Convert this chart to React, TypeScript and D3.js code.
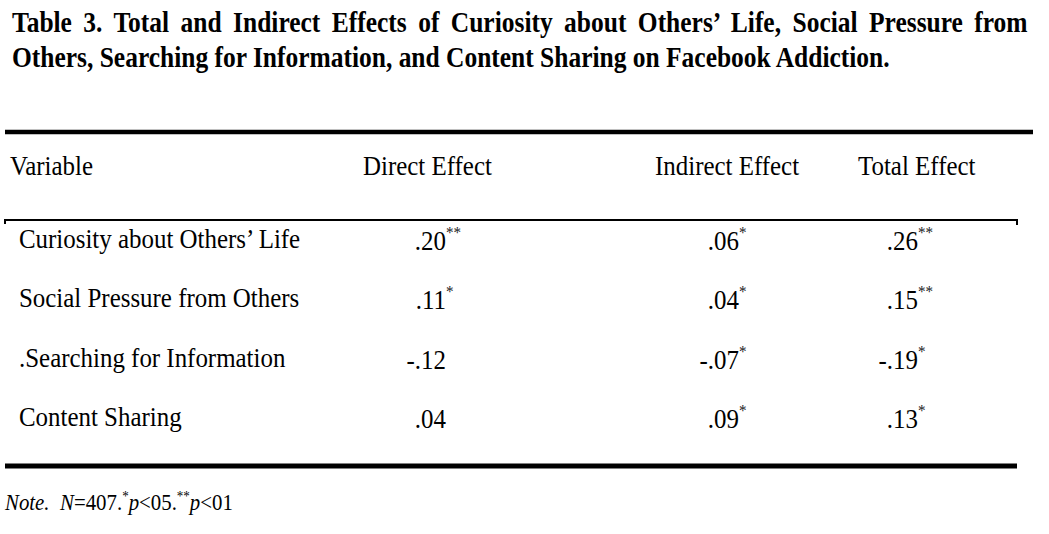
import React, { useEffect, useRef } from "react";
import * as d3 from "d3";

const titleLines = [
  "Table 3. Total and Indirect Effects of Curiosity about Others’ Life, Social Pressure from",
  "Others, Searching for Information, and Content Sharing on Facebook Addiction.",
];
const columns = ["Variable", "Direct Effect", "Indirect Effect", "Total Effect"];
const variables = [
  "Curiosity about Others’ Life",
  "Social Pressure from Others",
  ".Searching for Information",
  "Content Sharing",
];
const directEffect = [0.2, 0.11, -0.12, 0.04];
const directSig = ["**", "*", "", ""];
const indirectEffect = [0.06, 0.04, -0.07, 0.09];
const indirectSig = ["*", "*", "*", "*"];
const totalEffect = [0.26, 0.15, -0.19, 0.13];
const totalSig = ["**", "**", "*", "*"];
const noteParts = [
  { t: "Note.", i: true, sup: false },
  { t: "  ", i: false, sup: false },
  { t: "N", i: true, sup: false },
  { t: "=407.", i: false, sup: false },
  { t: "*", i: false, sup: true },
  { t: "p", i: true, sup: false },
  { t: "<05.", i: false, sup: false },
  { t: "**", i: false, sup: true },
  { t: "p", i: true, sup: false },
  { t: "<01", i: false, sup: false },
];

const W = 1049;
const H = 534;
const FONT = "'Liberation Serif', 'Times New Roman', serif";

export default function App() {
  const ref = useRef<SVGSVGElement | null>(null);

  useEffect(() => {
    const svg = d3.select(ref.current);
    svg.selectAll("*").remove();

    const fmt = (v: number) =>
      (v < 0 ? "-" : "") + d3.format(".2f")(Math.abs(v)).replace(/^0/, "");

    // ---- title ----
    const titleSize = 29;
    const tg = svg.append("g");
    const t2 = tg
      .append("text")
      .attr("font-family", FONT)
      .attr("font-weight", "bold")
      .attr("font-size", titleSize)
      .text(titleLines[1]);
    const w2 = (t2.node() as SVGTextElement).getComputedTextLength();
    const sx = 878 / w2;
    t2.attr("transform", `translate(12,67) scale(${sx},1)`);
    const t1 = tg
      .append("text")
      .attr("font-family", FONT)
      .attr("font-weight", "bold")
      .attr("font-size", titleSize)
      .text(titleLines[0]);
    const w1 = (t1.node() as SVGTextElement).getComputedTextLength();
    const gaps = titleLines[0].split(" ").length - 1;
    const ws = (1016 / sx - w1) / gaps;
    t1.attr("word-spacing", ws).attr("transform", `translate(12,32) scale(${sx},1)`);

    // ---- rules ----
    const lineX = d3.scaleLinear().domain([0, 1]).range([5, 1017]);
    svg
      .append("line")
      .attr("x1", lineX(0))
      .attr("x2", 1033)
      .attr("y1", 132)
      .attr("y2", 132)
      .attr("stroke", "#000")
      .attr("stroke-width", 4.5);
    svg
      .append("path")
      .attr("d", `M${lineX(0)},224V220H${lineX(1)}V225`)
      .attr("fill", "none")
      .attr("stroke", "#000")
      .attr("stroke-width", 2);
    svg
      .append("line")
      .attr("x1", lineX(0))
      .attr("x2", lineX(1))
      .attr("y1", 466)
      .attr("y2", 466)
      .attr("stroke", "#000")
      .attr("stroke-width", 5);

    // ---- header ----
    const bodySize = 28;
    const cond = 0.89;
    const headerX = d3.scaleOrdinal<string, number>().domain(columns).range([10, 363, 655, 858]);
    columns.forEach((c) => {
      svg
        .append("text")
        .attr("font-family", FONT)
        .attr("font-size", bodySize)
        .attr("transform", `translate(${headerX(c)},175) scale(${cond},1)`)
        .text(c);
    });

    // ---- rows ----
    const y = d3.scaleLinear().domain([0, variables.length - 1]).range([248, 426]);
    const valueX = d3
      .scaleOrdinal<string, number>()
      .domain(columns.slice(1))
      .range([446, 739, 918]);
    const series: [string, number[], string[]][] = [
      [columns[1], directEffect, directSig],
      [columns[2], indirectEffect, indirectSig],
      [columns[3], totalEffect, totalSig],
    ];

    variables.forEach((v, i) => {
      svg
        .append("text")
        .attr("font-family", FONT)
        .attr("font-size", bodySize)
        .attr("transform", `translate(19,${y(i)}) scale(${cond},1)`)
        .text(v);
      series.forEach(([col, vals, sig]) => {
        const x = valueX(col);
        svg
          .append("text")
          .attr("font-family", FONT)
          .attr("font-size", bodySize)
          .attr("text-anchor", "end")
          .attr("transform", `translate(${x},${y(i) + 2}) scale(${cond},1)`)
          .text(fmt(vals[i]));
        if (sig[i]) {
          svg
            .append("text")
            .attr("font-family", FONT)
            .attr("font-size", 17)
            .attr("fill", "#222")
            .attr("transform", `translate(${x},${y(i) - 10}) scale(${cond},1)`)
            .text(sig[i]);
        }
      });
    });

    // ---- note ----
    const note = svg
      .append("text")
      .attr("font-family", FONT)
      .attr("font-size", 24)
      .attr("xml:space", "preserve")
      .style("white-space", "pre");
    noteParts.forEach((p, k) => {
      const prevSup = k > 0 && noteParts[k - 1].sup;
      const ts = note.append("tspan").text(p.t);
      if (p.i) ts.attr("font-style", "italic");
      if (p.sup) ts.attr("font-size", 15).attr("dy", -9);
      else if (prevSup) ts.attr("dy", 9);
    });
    const nw = (note.node() as SVGTextElement).getComputedTextLength();
    note.attr("transform", `translate(5,510) scale(${228 / nw},1)`);
  }, []);

  return (
    <svg
      ref={ref}
      width={W}
      height={H}
      viewBox={`0 0 ${W} ${H}`}
      style={{ position: "absolute", left: 0, top: 0, background: "#fff" }}
    />
  );
}
